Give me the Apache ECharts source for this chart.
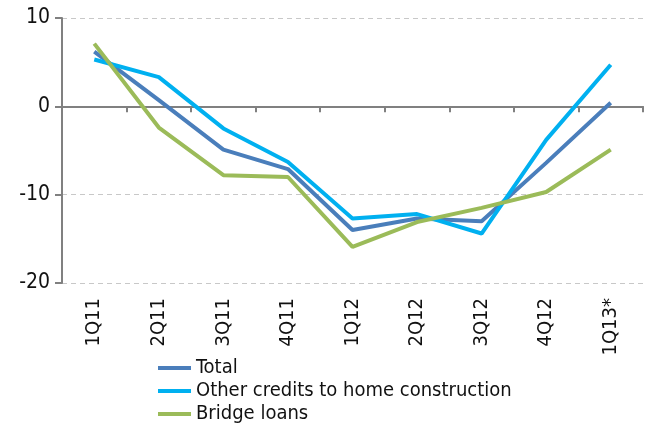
<!DOCTYPE html>
<html>
<head>
<meta charset="utf-8">
<script src="https://cdn.jsdelivr.net/npm/echarts@6/dist/echarts.min.js"></script>
<style>html,body{margin:0;padding:0;background:#fff}</style>
</head>
<body>
<div id="main" style="width:650px;height:425px;"></div>
<script>
var quarters = ['1Q11', '2Q11', '3Q11', '4Q11', '1Q12', '2Q12', '3Q12', '4Q12', '1Q13*'];
var total = [6.2, 0.7, -4.9, -7.1, -14.0, -12.7, -13.0, -6.4, 0.4];
var otherCredits = [5.3, 3.3, -2.5, -6.3, -12.7, -12.2, -14.4, -3.8, 4.7];
var bridgeLoans = [7.1, -2.4, -7.8, -8.0, -15.9, -13.1, -11.5, -9.7, -4.9];

var font = '"DejaVu Sans Condensed", sans-serif';
var myChart = echarts.init(document.getElementById('main'));

function line(name, data, color) {
    return {
        name: name,
        type: 'line',
        data: data,
        symbol: 'none',
        xAxisIndex: 0,
        lineStyle: {width: 4, color: color},
        itemStyle: {color: color},
        animation: false
    };
}

var option = {
    grid: {left: 62, right: 7, top: 18, bottom: 142},
    legend: {
        orient: 'vertical',
        left: 158,
        top: 358,
        height: 80,
        padding: 0,
        itemGap: 3,
        itemWidth: 33,
        itemHeight: 4,
        icon: 'rect',
        textStyle: {fontFamily: font, fontSize: 20, color: '#111'},
        data: ['Total', 'Other credits to home construction', 'Bridge loans']
    },
    xAxis: [
        {
            type: 'category',
            data: quarters,
            position: 'bottom',
            axisLine: {show: false, onZero: false},
            axisTick: {show: false},
            splitLine: {show: false},
            axisLabel: {
                rotate: 90,
                margin: 15,
                fontFamily: font,
                fontSize: 20,
                color: '#111'
            }
        },
        {
            type: 'category',
            data: quarters,
            position: 'bottom',
            axisLine: {show: true, onZero: true, lineStyle: {color: '#808080', width: 2}},
            axisTick: {show: true, length: 6, lineStyle: {color: '#808080', width: 2}},
            axisLabel: {show: false}
        }
    ],
    yAxis: {
        type: 'value',
        min: -20,
        max: 10,
        interval: 10,
        axisLine: {show: true, lineStyle: {color: '#808080', width: 2}},
        axisTick: {show: true, length: 7, lineStyle: {color: '#808080', width: 2}},
        axisLabel: {fontFamily: font, fontSize: 21, color: '#111', margin: 12},
        splitLine: {show: true, lineStyle: {color: '#c8c8c8', type: [5, 4], width: 1}}
    },
    series: [
        line('Total', total, '#4a7ebb'),
        line('Other credits to home construction', otherCredits, '#00b0f0'),
        line('Bridge loans', bridgeLoans, '#9bbb59')
    ]
};

myChart.setOption(option);
</script>
</body>
</html>
